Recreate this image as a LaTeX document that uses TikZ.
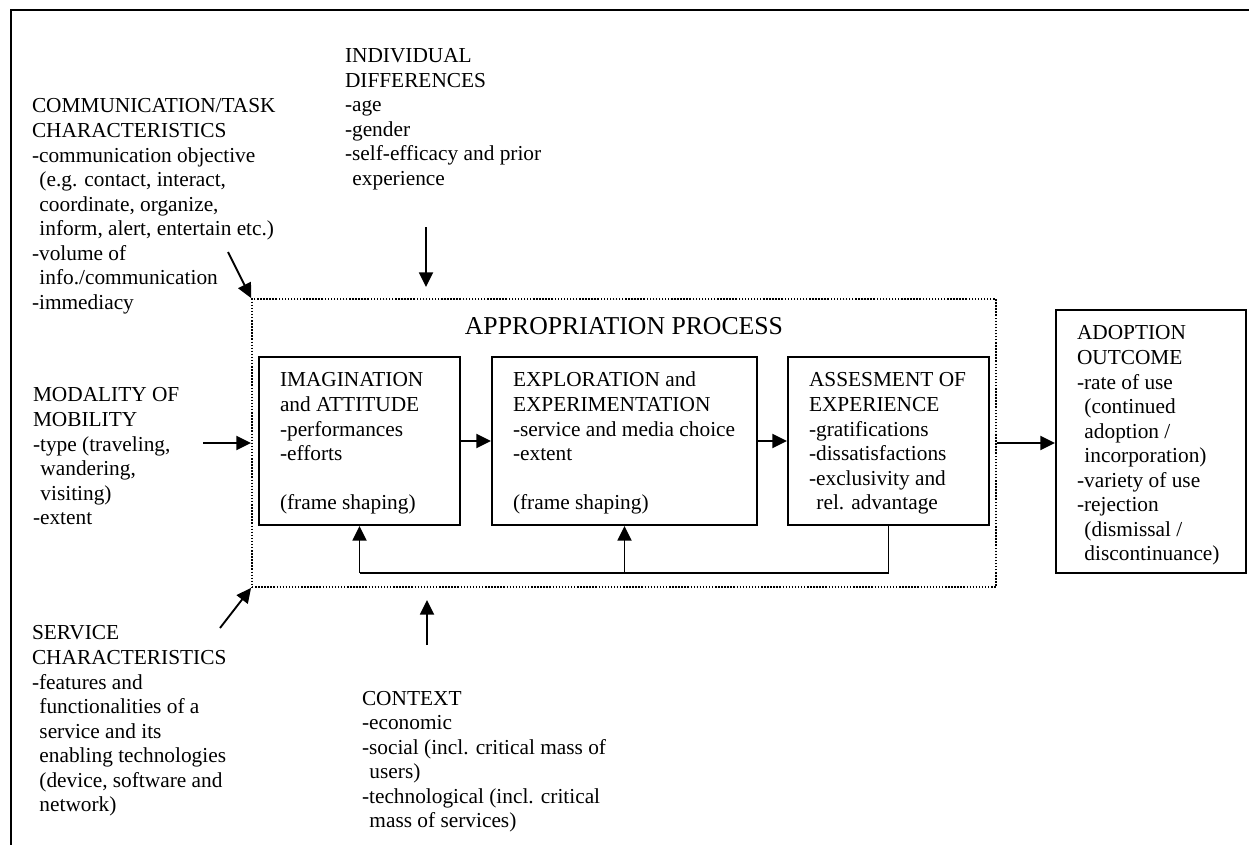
\documentclass[tikz,border=0pt]{standalone}
\usepackage{fontspec}
\setmainfont{Liberation Serif}
\usetikzlibrary{arrows.meta,fit,calc}
\newcommand{\bodyfs}{\fontsize{16}{18.4}\selectfont}
\newcommand{\ind}{\hspace*{0.35em}}
\begin{document}
\begin{tikzpicture}[x=0.75pt,y=-0.75pt,
  txt/.style={anchor=north west, inner sep=0pt, outer sep=0pt, align=left, font=\bodyfs},
  boxn/.style={draw, line width=1.5pt, inner sep=0pt},
  procbox/.style={draw, line width=1.4pt, dash pattern=on 1.1pt off 1.2pt, inner sep=0pt},
  arr/.style={line width=1.4pt, -{Triangle[length=11pt,width=10.5pt]}},
  link/.style={line width=1.4pt},
  frameline/.style={line width=1.6pt}]
\useasboundingbox (0,0) rectangle (1249,845);

% outer frame (left and top edges visible)
\draw[frameline] (11,850) -- (11,10) -- (1260,10);

% appropriation process (dotted)
\node[procbox, fit={(252,299) (996,587)}] (proc) {};
\node[anchor=base, inner sep=0pt, font=\fontsize{19.3}{22}\selectfont] (ptitle) at (624,334) {APPROPRIATION PROCESS};

% inner boxes
\node[boxn, fit={(259,357) (460,525)}] (b1) {};
\node[boxn, fit={(492,357) (757,525)}] (b2) {};
\node[boxn, fit={(788,357) (989,525)}] (b3) {};
\node[boxn, fit={(1056,310) (1246,573)}] (adopt) {};

\node[txt] (b1t) at (280,369.8) {\strut IMAGINATION\\ and ATTITUDE\\ -performances\\ -efforts\\ \strut\\ (frame shaping)};
\node[txt] (b2t) at (513,369.8) {\strut EXPLORATION and\\ EXPERIMENTATION\\ -service and media choice\\ -extent\\ \strut\\ (frame shaping)};
\node[txt] (b3t) at (809,369.8) {\strut ASSESMENT OF\\ EXPERIENCE\\ -gratifications\\ -dissatisfactions\\ -exclusivity and\\ \ind rel. advantage};
\node[txt] (adt) at (1077,322.8) {\strut ADOPTION\\ OUTCOME\\ -rate of use\\ \ind(continued\\ \ind adoption /\\ \ind incorporation)\\ -variety of use\\ -rejection\\ \ind(dismissal /\\ \ind discontinuance)};

% surrounding factor texts
\node[txt] (comm) at (32,95.8) {\strut COMMUNICATION/TASK\\ CHARACTERISTICS\\ -communication objective\\ \ind(e.g. contact, interact,\\ \ind coordinate, organize,\\ \ind inform, alert, entertain etc.)\\ -volume of\\ \ind info./communication\\ -immediacy};
\node[txt] (indiv) at (345,45.3) {\strut INDIVIDUAL\\ DIFFERENCES\\ -age\\ -gender\\ -self-efficacy and prior\\ \ind experience};
\node[txt] (modal) at (33,384.8) {\strut MODALITY OF\\ MOBILITY\\ -type (traveling,\\ \ind wandering,\\ \ind visiting)\\ -extent};
\node[txt] (serv) at (32,622.8) {\strut SERVICE\\ CHARACTERISTICS\\ -features and\\ \ind functionalities of a\\ \ind service and its\\ \ind enabling technologies\\ \ind(device, software and\\ \ind network)};
\node[txt] (ctx) at (362,688) {\strut CONTEXT\\ -economic\\ -social (incl. critical mass of\\ \ind users)\\ -technological (incl. critical\\ \ind mass of services)};

% arrow start/end points
\coordinate (commA) at (228,252);
\coordinate (indA) at (426,227);
\coordinate (indB) at (426,287);
\coordinate (modA) at (203,443);
\coordinate (servA) at (220,628);
\coordinate (ctxA) at (427,645);
\coordinate (ctxB) at (427,600);
\coordinate (fby) at (0,573);

% input arrows
\draw[arr] (commA) -- (proc.north west);
\draw[arr] (indA) -- (indB);
\draw[arr] (modA) -- (modA -| proc.west);
\draw[arr] (servA) -- (proc.south west);
\draw[arr] (ctxA) -- (ctxB);

% process flow
\draw[arr] (b1) -- (b2);
\draw[arr] (b2) -- (b3);
\draw[arr] (proc.east) -- (proc.east -| adopt.west);

% feedback loop
\draw[link] (b3.south) -- (b3.south |- fby) -- (b1.south |- fby);
\draw[arr] (b1.south |- fby) -- (b1.south);
\draw[arr] (b2.south |- fby) -- (b2.south);
\end{tikzpicture}
\end{document}
